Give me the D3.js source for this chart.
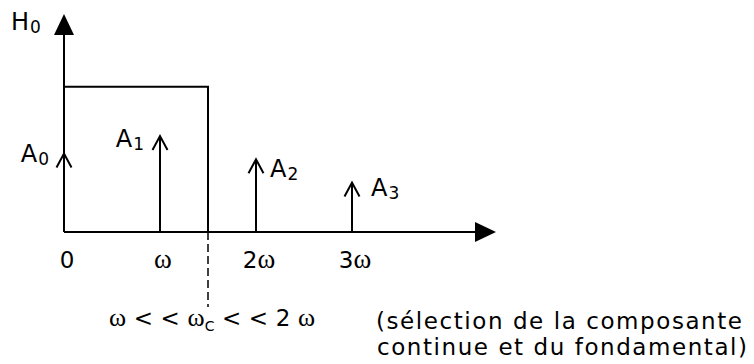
<!DOCTYPE html>
<html><head><meta charset="utf-8">
<script src="https://cdn.jsdelivr.net/npm/d3@7"></script>
<style>
html,body{margin:0;padding:0;background:#fff;}
svg{display:block;}
text{font-family:"DejaVu Sans",Verdana,sans-serif;fill:#000;}
.serif{font-family:"Liberation Serif","Times New Roman",serif;}
</style></head>
<body>
<script>
// ---- data ----
const harmonics = [0, 1, 2, 3];               // multiples of ω
const amplitudes = [0.54, 0.66, 0.50, 0.34];  // A0..A3 relative to H0
const ampNames = ["A", "A", "A", "A"];
const ampSubs = ["0", "1", "2", "3"];
const ampSide = ["left", "left", "right", "right"];
const tickNum = ["0", "", "2", "3"];
const tickOmega = [false, true, true, true];
const filterGain = [1];     // H0
const cutoff = [1.5];       // ωc in units of ω
const xDomain = [0, 4.5];
const yDomain = [0, 1.5];

// ---- layout ----
const W = 754, H = 364;
const x = d3.scaleLinear().domain(xDomain).range([64, 496]);
const y = d3.scaleLinear().domain(yDomain).range([232, 14]);
const labelDy = [8, 11, 18, 13];
const labelDx = [15, 16, 14, 19];

const svg = d3.select("body").append("svg").attr("width", W).attr("height", H);

// filter rectangle (ideal low-pass)
svg.append("path")
  .attr("d", `M${x(0)},${y(filterGain[0])}H${x(cutoff[0])}V${y(0)}`)
  .attr("fill", "none").attr("stroke", "#000").attr("stroke-width", 2);

// dashed cutoff line
svg.append("line")
  .attr("x1", x(cutoff[0])).attr("x2", x(cutoff[0]))
  .attr("y1", y(0)).attr("y2", 307)
  .attr("stroke", "#000").attr("stroke-width", 1.5).attr("stroke-dasharray", "8,4");

// axes
svg.append("line").attr("x1", x(0)).attr("x2", x(xDomain[1]) - 18)
  .attr("y1", y(0)).attr("y2", y(0)).attr("stroke", "#000").attr("stroke-width", 2);
svg.append("line").attr("x1", x(0)).attr("x2", x(0))
  .attr("y1", y(0)).attr("y2", y(yDomain[1]) + 18).attr("stroke", "#000").attr("stroke-width", 2);
// filled arrowheads
const tx = x(xDomain[1]), ty = y(0);
svg.append("path").attr("d", `M${tx},${ty}L${tx-21},${ty-10}L${tx-21},${ty+10}Z`).attr("fill", "#000");
const ax = x(0), ay = y(yDomain[1]);
svg.append("path").attr("d", `M${ax},${ay}L${ax-10},${ay+21}L${ax+10},${ay+21}Z`).attr("fill", "#000");

// H0 label
const h0 = svg.append("text").attr("x", 11).attr("y", 30).attr("font-size", 24);
h0.append("tspan").text("H");
h0.append("tspan").attr("font-size", 17).attr("dy", 3).attr("dx", 1).text("0");

// impulses
const imp = svg.append("g");
harmonics.forEach((h, i) => {
  const px = x(h), top = y(amplitudes[i]);
  imp.append("line").attr("x1", px).attr("x2", px).attr("y1", y(0)).attr("y2", top + 1)
    .attr("stroke", "#000").attr("stroke-width", 2);
  imp.append("path").attr("d", `M${px-7.5},${top+14}L${px},${top}L${px+7.5},${top+14}`)
    .attr("fill", "none").attr("stroke", "#000").attr("stroke-width", 2);
  const t = imp.append("text").attr("font-size", 24)
    .attr("y", top + labelDy[i]);
  if (ampSide[i] === "left") {
    t.attr("x", px - labelDx[i]).attr("text-anchor", "end");
  } else {
    t.attr("x", px + labelDx[i]).attr("text-anchor", "start");
  }
  t.append("tspan").text(ampNames[i]);
  t.append("tspan").attr("font-size", 17).attr("dy", 3).attr("dx", 1).text(ampSubs[i]);
});

// tick labels
harmonics.forEach((h, i) => {
  const t = svg.append("text").attr("x", x(h) + 3).attr("y", 268)
    .attr("text-anchor", "middle").attr("font-size", 23);
  if (tickNum[i]) t.append("tspan").text(tickNum[i]);
  if (tickOmega[i]) t.append("tspan").attr("class", "serif").attr("font-size", 27).text("ω");
});

// bottom condition
const c = svg.append("text").attr("x", 109).attr("y", 326).attr("font-size", 23)
  .attr("textLength", 206).attr("lengthAdjust", "spacing");
c.append("tspan").attr("class", "serif").attr("font-size", 26).text("ω");
c.append("tspan").text(" < < ");
c.append("tspan").attr("class", "serif").attr("font-size", 26).text("ω");
c.append("tspan").attr("font-size", 14).attr("dy", 5).text("C");
c.append("tspan").attr("dy", -5).text(" < < 2 ");
c.append("tspan").attr("class", "serif").attr("font-size", 26).text("ω");

svg.append("text").attr("x", 376).attr("y", 329).attr("font-size", 23)
  .attr("textLength", 366).attr("lengthAdjust", "spacing")
  .text("(sélection de la composante");
svg.append("text").attr("x", 377).attr("y", 355).attr("font-size", 23)
  .attr("textLength", 370).attr("lengthAdjust", "spacing")
  .text("continue et du fondamental)");
</script>
</body></html>
